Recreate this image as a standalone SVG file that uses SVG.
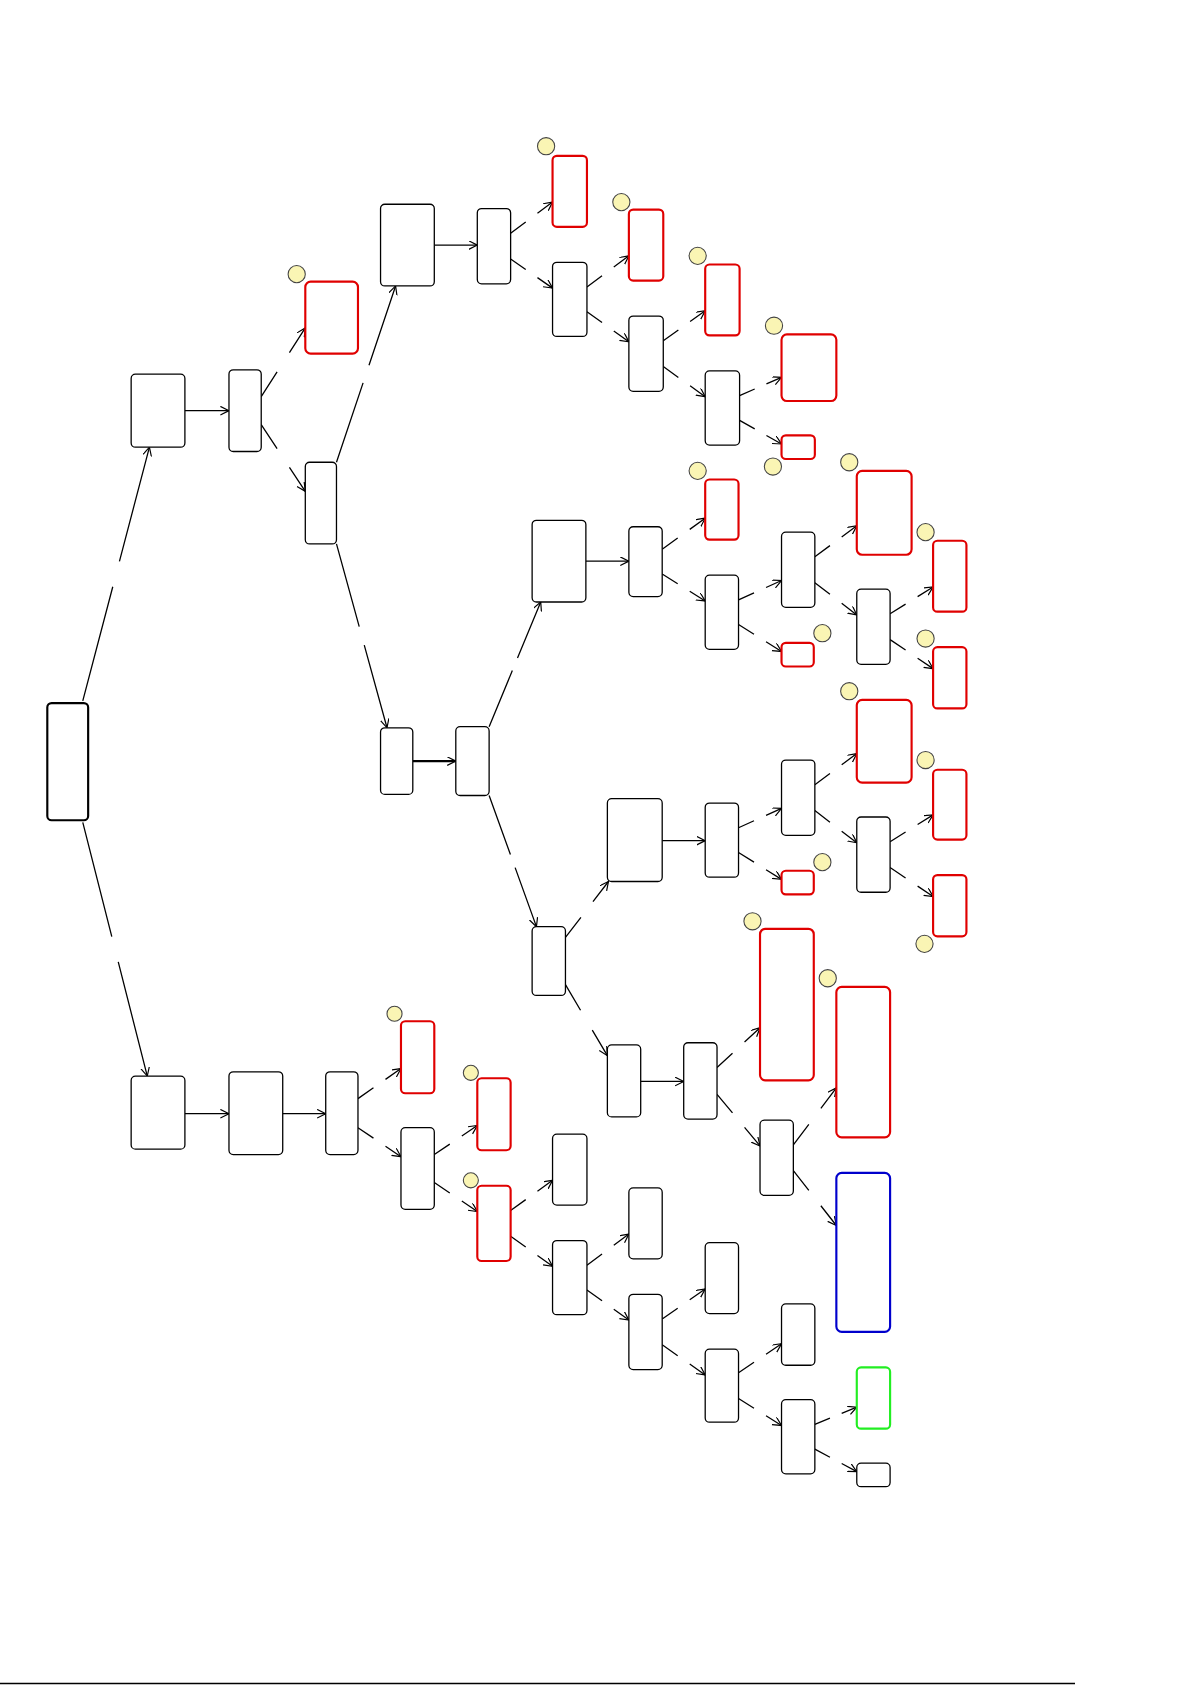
<svg xmlns="http://www.w3.org/2000/svg" width="1192" height="1685" viewBox="0 0 1192 1685">
<defs>
<marker id="ar" markerUnits="userSpaceOnUse" markerWidth="10" markerHeight="10" refX="8" refY="4" orient="auto"><path d="M0,0 L8,4 L0,8" fill="none" stroke="#000" stroke-width="1.1"/></marker>
<style>
.n rect{fill:#fff;stroke:#000;stroke-width:1.2}
.r rect{stroke:#e00000;stroke-width:2}
.b rect{stroke:#0000cc;stroke-width:2}
.g rect{stroke:#22ee22;stroke-width:2}
circle{fill:#faf5b4;stroke:#444;stroke-width:1}
#edges path{fill:none;stroke:#000;stroke-width:1.2;marker-end:url(#ar)}
#edges .s{stroke-dasharray:36 28 36}
#edges .l{stroke-dasharray:45 10 45}
</style>
</defs>
<rect width="1192" height="1685" fill="#fff"/>
<g transform="scale(1.075)">
<line x1="0" y1="1566" x2="1000" y2="1566" stroke="#000" stroke-width="1.5"/>
<g id="edges">
<path d="M172,382H213"/><path d="M404,228H444"/><path d="M384,708H424" style="stroke-width:2"/><path d="M545,522H585"/><path d="M616,782H656"/><path d="M596,1006H636"/><path d="M172,1036H213"/><path d="M263,1036H303"/>
<path class="l" pathLength="100" d="M77,652L139,416"/><path class="l" pathLength="100" d="M77,765L137,1001"/>
<path class="l" pathLength="100" d="M313,430L368,266"/><path class="l" pathLength="100" d="M313,506L360,677"/>
<path class="l" pathLength="100" d="M455,676L503,560"/><path class="l" pathLength="100" d="M455,740L499,862"/>
<path class="s" pathLength="100" d="M526,872L566,820"/><path class="s" pathLength="100" d="M526,916L565,982"/>
<path class="s" pathLength="100" d="M243,369L284,305"/><path class="s" pathLength="100" d="M243,395L284,457"/>
<path class="s" pathLength="100" d="M475,217L514,188"/><path class="s" pathLength="100" d="M475,241L514,268"/>
<path class="s" pathLength="100" d="M546,267L585,238"/><path class="s" pathLength="100" d="M546,290L585,318"/>
<path class="s" pathLength="100" d="M617,317L656,289"/><path class="s" pathLength="100" d="M617,341L656,369"/>
<path class="s" pathLength="100" d="M688,368L727,351"/><path class="s" pathLength="100" d="M688,391L727,413"/>
<path class="s" pathLength="100" d="M616,511L656,482"/><path class="s" pathLength="100" d="M616,534L656,559"/>
<path class="s" pathLength="100" d="M687,558L727,540"/><path class="s" pathLength="100" d="M687,581L727,606"/>
<path class="s" pathLength="100" d="M758,518L797,489"/><path class="s" pathLength="100" d="M758,542L797,572"/>
<path class="s" pathLength="100" d="M828,571L868,546"/><path class="s" pathLength="100" d="M828,595L868,622"/>
<path class="s" pathLength="100" d="M687,770L727,752"/><path class="s" pathLength="100" d="M687,793L727,818"/>
<path class="s" pathLength="100" d="M758,730L797,701"/><path class="s" pathLength="100" d="M758,754L797,784"/>
<path class="s" pathLength="100" d="M828,783L868,758"/><path class="s" pathLength="100" d="M828,807L868,834"/>
<path class="s" pathLength="100" d="M667,993L707,956"/><path class="s" pathLength="100" d="M667,1018L707,1066"/>
<path class="s" pathLength="100" d="M738,1065L778,1012"/><path class="s" pathLength="100" d="M738,1089L778,1140"/>
<path class="s" pathLength="100" d="M333,1022L373,994"/><path class="s" pathLength="100" d="M333,1049L373,1076"/>
<path class="s" pathLength="100" d="M404,1074L444,1047"/><path class="s" pathLength="100" d="M404,1100L444,1127"/>
<path class="s" pathLength="100" d="M475,1126L514,1098"/><path class="s" pathLength="100" d="M475,1150L514,1178"/>
<path class="s" pathLength="100" d="M546,1177L585,1148"/><path class="s" pathLength="100" d="M546,1200L585,1228"/>
<path class="s" pathLength="100" d="M616,1227L656,1199"/><path class="s" pathLength="100" d="M616,1251L656,1279"/>
<path class="s" pathLength="100" d="M687,1277L727,1250"/><path class="s" pathLength="100" d="M687,1301L727,1326"/>
<path class="s" pathLength="100" d="M758,1325L797,1309"/><path class="s" pathLength="100" d="M758,1348L797,1369"/>
</g>
<g id="root" class="n"><rect x="44" y="654" width="38" height="109" rx="4" style="stroke-width:2"/></g>
<g id="A" class="n"><rect x="122" y="348" width="50" height="68" rx="4"/></g>
<g id="A1" class="n"><rect x="213" y="344" width="30" height="76" rx="4"/></g>
<g id="R1" class="n r"><rect x="284" y="262" width="49" height="67" rx="5"/><circle cx="276" cy="255" r="8"/></g>
<g id="A2" class="n"><rect x="284" y="430" width="29" height="76" rx="4"/></g>
<g id="B" class="n"><rect x="354" y="190" width="50" height="76" rx="4"/></g>
<g id="B1" class="n"><rect x="444" y="194" width="31" height="70" rx="4"/></g>
<g id="R2" class="n r"><rect x="514" y="145" width="32" height="66" rx="4"/><circle cx="508" cy="136" r="8"/></g>
<g id="C1" class="n"><rect x="514" y="244" width="32" height="69" rx="4"/></g>
<g id="R3" class="n r"><rect x="585" y="195" width="32" height="66" rx="4"/><circle cx="578" cy="188" r="8"/></g>
<g id="C2" class="n"><rect x="585" y="294" width="32" height="70" rx="4"/></g>
<g id="R4" class="n r"><rect x="656" y="246" width="32" height="66" rx="4"/><circle cx="649" cy="238" r="8"/></g>
<g id="C3" class="n"><rect x="656" y="345" width="32" height="69" rx="4"/></g>
<g id="R5" class="n r"><rect x="727" y="311" width="51" height="62" rx="5"/><circle cx="720" cy="303" r="8"/></g>
<g id="R6" class="n r"><rect x="727" y="405" width="31" height="22" rx="4"/><circle cx="719" cy="434" r="8"/></g>
<g id="D" class="n"><rect x="354" y="677" width="30" height="62" rx="4"/></g>
<g id="D1" class="n"><rect x="424" y="676" width="31" height="64" rx="4"/></g>
<g id="E" class="n"><rect x="495" y="484" width="50" height="76" rx="4"/></g>
<g id="E1" class="n"><rect x="585" y="490" width="31" height="65" rx="4"/></g>
<g id="R7" class="n r"><rect x="656" y="446" width="31" height="56" rx="4"/><circle cx="649" cy="438" r="8"/></g>
<g id="E2" class="n"><rect x="656" y="535" width="31" height="69" rx="4"/></g>
<g id="F1" class="n"><rect x="727" y="495" width="31" height="70" rx="4"/></g>
<g id="R8" class="n r"><rect x="797" y="438" width="51" height="78" rx="5"/><circle cx="790" cy="430" r="8"/></g>
<g id="F2" class="n"><rect x="797" y="548" width="31" height="70" rx="4"/></g>
<g id="R9" class="n r"><rect x="868" y="503" width="31" height="66" rx="4"/><circle cx="861" cy="495" r="8"/></g>
<g id="R10" class="n r"><rect x="868" y="602" width="31" height="57" rx="4"/><circle cx="861" cy="594" r="8"/></g>
<g id="R11" class="n r"><rect x="727" y="598" width="30" height="22" rx="4"/><circle cx="765" cy="589" r="8"/></g>
<g id="G" class="n"><rect x="565" y="743" width="51" height="77" rx="4"/></g>
<g id="G1" class="n"><rect x="656" y="747" width="31" height="69" rx="4"/></g>
<g id="H1" class="n"><rect x="727" y="707" width="31" height="70" rx="4"/></g>
<g id="R12" class="n r"><rect x="797" y="651" width="51" height="77" rx="5"/><circle cx="790" cy="643" r="8"/></g>
<g id="H2" class="n"><rect x="797" y="760" width="31" height="70" rx="4"/></g>
<g id="R13" class="n r"><rect x="868" y="716" width="31" height="65" rx="4"/><circle cx="861" cy="707" r="8"/></g>
<g id="R14" class="n r"><rect x="868" y="814" width="31" height="57" rx="4"/><circle cx="860" cy="878" r="8"/></g>
<g id="R15" class="n r"><rect x="727" y="810" width="30" height="22" rx="4"/><circle cx="765" cy="802" r="8"/></g>
<g id="I" class="n"><rect x="495" y="862" width="31" height="64" rx="4"/></g>
<g id="J" class="n"><rect x="565" y="972" width="31" height="67" rx="4"/></g>
<g id="J1" class="n"><rect x="636" y="970" width="31" height="71" rx="4"/></g>
<g id="R16" class="n r"><rect x="707" y="864" width="50" height="141" rx="5"/><circle cx="700" cy="857" r="8"/></g>
<g id="K" class="n"><rect x="707" y="1042" width="31" height="70" rx="4"/></g>
<g id="R17" class="n r"><rect x="778" y="918" width="50" height="140" rx="5"/><circle cx="770" cy="910" r="8"/></g>
<g id="BL" class="n b"><rect x="778" y="1091" width="50" height="148" rx="5"/></g>
<g id="L" class="n"><rect x="122" y="1001" width="50" height="68" rx="4"/></g>
<g id="L1" class="n"><rect x="213" y="997" width="50" height="77" rx="4"/></g>
<g id="L2" class="n"><rect x="303" y="997" width="30" height="77" rx="4"/></g>
<g id="R18" class="n r"><rect x="373" y="950" width="31" height="67" rx="4"/><circle cx="367" cy="943" r="7"/></g>
<g id="M1" class="n"><rect x="373" y="1049" width="31" height="76" rx="4"/></g>
<g id="R19" class="n r"><rect x="444" y="1003" width="31" height="67" rx="4"/><circle cx="438" cy="998" r="7"/></g>
<g id="R20" class="n r"><rect x="444" y="1103" width="31" height="70" rx="4"/><circle cx="438" cy="1098" r="7"/></g>
<g id="N1" class="n"><rect x="514" y="1055" width="32" height="66" rx="4"/></g>
<g id="N2" class="n"><rect x="514" y="1154" width="32" height="69" rx="4"/></g>
<g id="O1" class="n"><rect x="585" y="1105" width="31" height="66" rx="4"/></g>
<g id="O2" class="n"><rect x="585" y="1204" width="31" height="70" rx="4"/></g>
<g id="P1" class="n"><rect x="656" y="1156" width="31" height="66" rx="4"/></g>
<g id="P2" class="n"><rect x="656" y="1255" width="31" height="68" rx="4"/></g>
<g id="Q1" class="n"><rect x="727" y="1213" width="31" height="57" rx="4"/></g>
<g id="Q2" class="n"><rect x="727" y="1302" width="31" height="69" rx="4"/></g>
<g id="GR" class="n g"><rect x="797" y="1272" width="31" height="57" rx="4"/></g>
<g id="SM" class="n"><rect x="797" y="1361" width="31" height="22" rx="4"/></g>
</g>
</svg>
